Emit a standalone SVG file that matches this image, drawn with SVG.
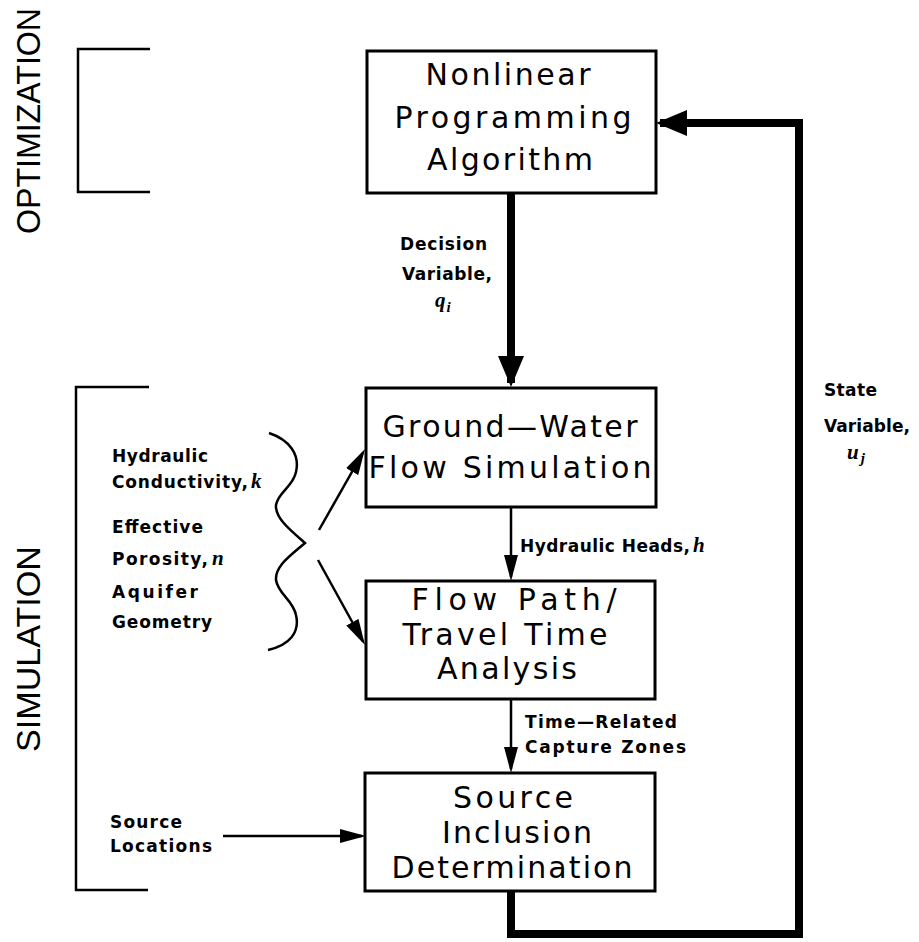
<svg xmlns="http://www.w3.org/2000/svg" width="919" height="942" viewBox="0 0 919 942">
<style>
.box{fill:#fff;stroke:#000;stroke-width:3}
.bt{font-family:"DejaVu Sans","Liberation Sans",sans-serif;font-size:30px;text-anchor:middle;fill:#000}
.lb{font-family:"DejaVu Sans","Liberation Sans",sans-serif;font-weight:bold;font-size:17px;fill:#000}
.mv{font-family:"Liberation Serif",serif;font-style:italic;font-weight:bold;font-size:21px}
.sub{font-family:"Liberation Serif",serif;font-style:italic;font-weight:bold;font-size:15px}
.side{font-family:"Liberation Sans",Arial,sans-serif;font-size:33px;fill:#000}
.br{fill:none;stroke:#000;stroke-width:2.5}
.thin{fill:none;stroke:#000;stroke-width:2.5}
.thick{fill:none;stroke:#000;stroke-width:8;stroke-linejoin:miter;stroke-linecap:butt}
</style>
<defs>
<marker id="ah" markerUnits="userSpaceOnUse" markerWidth="26" markerHeight="14" refX="22" refY="7" orient="auto">
<path d="M0,0 L26,7 L0,14 z" fill="#000"/>
</marker>
<marker id="ahk" markerUnits="userSpaceOnUse" markerWidth="31" markerHeight="26" refX="27" refY="13" orient="auto">
<path d="M0,0 L31,13 L0,26 z" fill="#000"/>
</marker>
</defs>

<g id="section-labels">
<text class="side" transform="translate(40,234) rotate(-90)" textLength="226" lengthAdjust="spacingAndGlyphs">OPTIMIZATION</text>
<text class="side" transform="translate(40,752) rotate(-90)" textLength="206" lengthAdjust="spacingAndGlyphs">SIMULATION</text>
<path class="br" d="M150,49 H78 V192 H150"/>
<path class="br" d="M149,387 H76 V890 H148"/>
</g>

<g id="connectors">
<line class="thick" x1="511" y1="193" x2="511" y2="383" marker-end="url(#ahk)"/>
<polyline class="thick" points="511,891 511,934 799,934 799,123 660,123" marker-end="url(#ahk)"/>
<line class="thin" x1="511" y1="507" x2="511" y2="577" marker-end="url(#ah)"/>
<line class="thin" x1="511" y1="699" x2="511" y2="769" marker-end="url(#ah)"/>
<line class="thin" x1="223" y1="836" x2="362" y2="836" marker-end="url(#ah)"/>
<line class="thin" x1="319" y1="530" x2="363" y2="452.5" marker-end="url(#ah)"/>
<line class="thin" x1="318" y1="560" x2="363" y2="641.5" marker-end="url(#ah)"/>
<path class="br" d="M269,433 C290,440 300,455 296,472 C293,487 278,492 276,505 C275,518 290,530 305,543 C290,556 275,566 276,580 C278,594 293,600 296,615 C300,632 290,645 268,650"/>
</g>

<g id="n-nlp">
<rect class="box" x="367" y="51" width="289" height="142"/>
<text class="bt" x="508" y="85" textLength="165" lengthAdjust="spacing">Nonlinear</text>
<text class="bt" x="513" y="128" textLength="237" lengthAdjust="spacing">Programming</text>
<text class="bt" x="510" y="170" textLength="166" lengthAdjust="spacing">Algorithm</text>
</g>

<g id="n-gw">
<rect class="box" x="366" y="388" width="290" height="119"/>
<text class="bt" x="510" y="437" textLength="255" lengthAdjust="spacing">Ground—Water</text>
<text class="bt" x="510" y="478" textLength="283" lengthAdjust="spacing">Flow Simulation</text>
</g>

<g id="n-fp">
<rect class="box" x="366" y="581" width="289" height="118"/>
<text class="bt" x="514" y="610" textLength="205" lengthAdjust="spacing">Flow Path/</text>
<text class="bt" x="505" y="645" textLength="205" lengthAdjust="spacing">Travel Time</text>
<text class="bt" x="507" y="679" textLength="140" lengthAdjust="spacing">Analysis</text>
</g>

<g id="n-si">
<rect class="box" x="365" y="773" width="290" height="118"/>
<text class="bt" x="513" y="808" textLength="120" lengthAdjust="spacing">Source</text>
<text class="bt" x="517" y="843" textLength="150" lengthAdjust="spacing">Inclusion</text>
<text class="bt" x="512" y="878" textLength="241" lengthAdjust="spacing">Determination</text>
</g>

<g id="labels">
<text class="lb" x="400" y="250" textLength="87" lengthAdjust="spacing">Decision</text>
<text class="lb" x="402" y="280" textLength="90" lengthAdjust="spacing">Variable,</text>
<text class="mv" x="435" y="307">q<tspan class="sub" dx="1" dy="5">i</tspan></text>

<text class="lb" x="824" y="396" textLength="53" lengthAdjust="spacing">State</text>
<text class="lb" x="824" y="432" textLength="86" lengthAdjust="spacing">Variable,</text>
<text class="mv" x="847" y="459">u<tspan class="sub" dx="2" dy="4">j</tspan></text>

<text class="lb" x="520" y="552" textLength="170" lengthAdjust="spacing">Hydraulic Heads,</text>
<text class="mv" x="693" y="552">h</text>

<text class="lb" x="525" y="728" textLength="152" lengthAdjust="spacing">Time—Related</text>
<text class="lb" x="525" y="753" textLength="161" lengthAdjust="spacing">Capture Zones</text>

<text class="lb" x="112" y="462" textLength="96" lengthAdjust="spacing">Hydraulic</text>
<text class="lb" x="112" y="488" textLength="136" lengthAdjust="spacing">Conductivity,</text>
<text class="mv" x="251" y="488">k</text>
<text class="lb" x="112" y="533" textLength="91" lengthAdjust="spacing">Effective</text>
<text class="lb" x="112" y="565" textLength="96" lengthAdjust="spacing">Porosity,</text>
<text class="mv" x="212" y="565">n</text>
<text class="lb" x="112" y="598" textLength="86" lengthAdjust="spacing">Aquifer</text>
<text class="lb" x="112" y="628" textLength="100" lengthAdjust="spacing">Geometry</text>

<text class="lb" x="110" y="828" textLength="72" lengthAdjust="spacing">Source</text>
<text class="lb" x="110" y="852" textLength="102" lengthAdjust="spacing">Locations</text>
</g>
</svg>
